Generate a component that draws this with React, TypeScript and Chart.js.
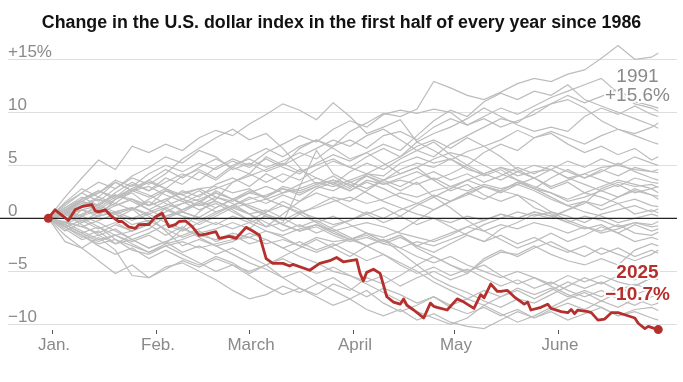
import React, { useEffect, useRef } from "react";
import { Chart, registerables } from "chart.js";

Chart.register(...registerables);

// Day of year (0 = Jan. 1) for each sample of the gray series; -1 = last close of previous year
const DAYS = [-1, 4, 9, 14, 19, 24, 29, 34, 39, 44, 49, 54, 59, 64, 69, 74, 79, 84, 89, 94, 99, 104, 109, 114, 119, 124, 129, 134, 139, 144, 149, 154, 159, 164, 169, 174, 179, 181];

const y1986 = [0, -2.2, -2.8, -1.8, -3.0, -5.4, -5.6, -4.6, -4.2, -5.0, -5.8, -6.8, -7.6, -7.2, -6.4, -7.0, -6.2, -5.6, -6.6, -7.4, -6.6, -7.2, -8.0, -7.4, -8.4, -9.0, -8.4, -9.2, -8.6, -9.4, -8.8, -9.6, -9.0, -8.4, -9.2, -8.8, -9.4, -9.6];
const y1987 = [0, -1.6, -2.8, -4.0, -5.2, -4.4, -5.6, -4.8, -4.0, -4.6, -3.8, -4.4, -5.0, -4.4, -5.6, -5.0, -6.0, -6.8, -7.6, -6.8, -8.0, -8.8, -8.2, -7.4, -8.2, -7.6, -6.8, -7.4, -6.6, -7.2, -6.6, -7.4, -6.8, -7.4, -6.6, -7.2, -6.6, -6.8];
const y1988 = [0, -1.2, -0.4, 0.6, 1.4, 0.8, 1.6, 0.8, 0.2, -0.6, 0.2, 1.0, 0.4, -0.4, -1.2, -0.6, -1.4, -0.8, -0.2, 0.6, 0.0, 0.8, 1.4, 0.8, 1.6, 2.4, 1.8, 2.6, 3.4, 2.8, 3.8, 4.6, 3.8, 4.4, 5.2, 4.4, 3.8, 3.6];
const y1989 = [0, 0.8, 0.2, 1.4, 2.2, 1.6, 0.8, 1.6, 2.6, 2.0, 3.2, 3.8, 3.0, 4.2, 3.4, 4.6, 3.8, 3.2, 4.4, 5.2, 4.6, 5.6, 6.4, 5.8, 7.0, 7.8, 8.6, 9.4, 9.0, 10.2, 10.8, 11.2, 10.4, 9.2, 8.4, 7.8, 7.2, 7.0];
const y1990 = [0, 0.4, -0.6, -1.6, -1.0, -2.0, -1.4, -0.6, -1.2, -0.4, 0.4, 1.2, 2.0, 1.4, 2.2, 1.6, 2.4, 1.8, 1.0, 0.4, 1.0, 0.2, -0.6, 0.0, -0.8, -1.6, -2.2, -1.6, -2.4, -1.8, -2.6, -3.2, -2.6, -3.4, -2.8, -3.6, -3.0, -3.3];
const y1991 = [0, -0.6, -1.4, -0.8, -2.0, -2.6, -3.2, -2.4, -1.0, 0.6, 1.8, 3.4, 4.2, 5.8, 5.0, 6.6, 7.4, 6.8, 8.2, 9.0, 9.9, 9.6, 10.3, 12.9, 12.3, 11.6, 11.2, 11.9, 12.7, 13.2, 12.9, 13.6, 14.0, 15.1, 16.3, 15.0, 15.2, 15.6];
const y1992 = [0, 0.6, 1.6, 2.4, 3.4, 2.6, 3.6, 4.6, 3.8, 4.8, 5.6, 4.8, 5.8, 6.6, 5.8, 6.8, 7.4, 6.6, 5.6, 6.2, 5.2, 4.2, 4.8, 3.6, 2.6, 3.2, 2.2, 1.6, 2.2, 1.0, 0.4, -0.4, -1.0, -0.6, -1.4, -2.2, -1.8, -2.0];
const y1993 = [0, 0.8, 1.8, 2.6, 1.8, 2.8, 3.6, 2.8, 1.8, 2.6, 1.6, 0.8, -0.2, 0.6, 1.6, 0.8, -0.4, -1.2, -2.0, -1.4, -2.2, -1.6, -2.6, -3.2, -2.4, -1.6, -2.2, -1.0, -0.4, 0.4, 0.0, 0.8, 1.6, 1.2, 2.0, 2.8, 2.2, 2.1];
const y1994 = [0, -0.4, 0.4, 1.0, 0.4, -0.6, -0.2, -1.0, -1.8, -1.2, -2.2, -1.6, -2.4, -2.0, -2.8, -2.2, -3.0, -2.4, -3.2, -4.0, -3.4, -4.4, -5.2, -4.6, -5.4, -4.8, -5.6, -6.4, -5.8, -6.6, -6.0, -6.8, -7.4, -6.8, -7.6, -8.2, -7.4, -7.2];
const y1995 = [0, -0.6, -1.4, -2.2, -1.6, -2.4, -3.2, -2.6, -3.4, -4.2, -5.0, -4.4, -5.4, -6.4, -7.2, -6.6, -7.4, -8.2, -7.6, -8.6, -9.2, -8.6, -9.6, -9.0, -9.8, -10.2, -10.4, -9.6, -8.8, -9.4, -8.6, -8.0, -8.6, -7.8, -8.4, -7.6, -8.2, -8.0];
const y1996 = [0, 0.6, 1.6, 1.0, 2.0, 2.8, 2.2, 1.4, 0.8, 1.6, 1.0, 1.8, 2.6, 2.0, 2.8, 2.2, 3.0, 2.6, 3.4, 2.8, 3.6, 3.0, 3.8, 4.4, 3.6, 4.2, 3.4, 4.0, 4.8, 4.2, 5.0, 4.4, 3.8, 4.6, 4.0, 4.8, 4.4, 4.6];
const y1997 = [0, 1.4, 2.4, 3.4, 2.8, 4.0, 4.8, 5.8, 5.2, 6.4, 5.8, 4.6, 5.2, 4.4, 5.0, 5.8, 6.6, 7.4, 6.8, 7.8, 8.4, 7.4, 6.4, 7.2, 6.0, 5.0, 4.2, 3.6, 4.4, 3.8, 4.6, 5.4, 4.8, 5.6, 5.0, 5.8, 5.2, 5.0];
const y1998 = [0, 0.8, 1.6, 0.8, 0.0, 0.8, 1.8, 2.6, 1.8, 1.2, 2.0, 1.6, 2.4, 3.0, 2.4, 3.2, 3.8, 3.2, 2.6, 3.4, 2.8, 2.0, 1.4, 2.2, 1.6, 2.4, 3.0, 2.4, 3.2, 3.8, 3.0, 3.6, 4.2, 3.6, 3.0, 3.8, 3.4, 3.3];
const y1999 = [0, 0.4, 1.2, 2.0, 1.4, 2.6, 3.4, 2.8, 4.0, 4.6, 3.8, 5.0, 5.6, 4.8, 5.4, 6.2, 5.6, 6.8, 7.4, 6.6, 7.8, 8.2, 7.4, 8.6, 9.4, 8.8, 9.6, 10.4, 9.8, 10.6, 11.4, 12.0, 12.6, 13.2, 11.8, 10.8, 10.4, 10.1];
const y2000 = [0, 1.0, 2.0, 1.2, 2.4, 3.4, 2.6, 3.8, 3.2, 4.4, 3.6, 4.8, 4.2, 3.4, 4.2, 3.6, 4.6, 5.4, 4.8, 5.8, 6.6, 5.8, 6.8, 7.4, 6.6, 7.6, 6.8, 5.8, 4.6, 3.8, 2.8, 3.4, 2.4, 2.0, 1.4, 1.8, 1.2, 1.1];
const y2001 = [0, 1.0, 1.8, 2.6, 2.0, 3.2, 2.6, 3.4, 4.2, 3.6, 4.8, 5.6, 5.0, 6.2, 7.0, 7.8, 7.2, 8.4, 9.2, 8.6, 9.8, 10.2, 9.9, 10.3, 10.0, 8.8, 9.4, 8.6, 9.2, 9.8, 10.8, 11.6, 10.9, 11.5, 12.2, 11.0, 10.6, 10.4];
const y2002 = [0, 0.6, 1.4, 0.8, 1.8, 2.6, 2.0, 2.8, 2.2, 1.6, 2.4, 1.8, 1.2, 0.6, 1.2, 0.4, -0.4, 0.2, -0.6, -1.4, -2.2, -1.6, -2.8, -3.6, -4.4, -5.0, -4.4, -5.4, -6.2, -5.6, -6.4, -7.2, -7.8, -8.4, -9.2, -8.6, -8.4, -8.7];
const y2003 = [0, -0.8, -1.6, -2.6, -3.4, -2.8, -3.8, -3.0, -3.8, -4.4, -3.6, -4.2, -5.2, -4.4, -3.6, -2.8, -2.0, -2.8, -3.6, -2.6, -3.4, -4.2, -5.0, -6.0, -6.8, -7.6, -8.2, -9.0, -9.8, -9.2, -8.4, -7.6, -7.0, -7.8, -7.0, -6.4, -5.6, -5.8];
const y2004 = [0, -0.6, 0.8, 0.2, 1.8, 2.4, 1.2, 1.8, 0.6, 1.4, 2.6, 1.8, 1.0, 0.2, -0.6, 0.4, 1.2, 2.0, 1.6, 2.6, 3.6, 4.6, 5.2, 4.8, 5.6, 4.8, 4.0, 4.6, 3.6, 2.8, 2.0, 1.2, 1.6, 0.8, 1.4, 0.4, 0.8, 0.5];
const y2005 = [0, 1.5, 2.8, 2.0, 3.4, 2.6, 3.0, 2.2, 1.6, 0.8, 1.4, 0.6, -0.2, -0.8, 0.4, 1.6, 2.8, 3.4, 2.6, 3.6, 3.2, 3.8, 4.4, 3.6, 4.2, 5.0, 6.2, 7.0, 6.4, 7.6, 8.2, 7.6, 7.0, 7.8, 8.4, 8.0, 8.6, 9.0];
const y2006 = [0, -0.8, -1.8, -1.2, -2.4, -1.6, -1.0, 0.2, 0.8, 1.4, 0.6, 1.2, 0.4, 0.8, 0.0, -0.8, -0.2, -1.0, -1.8, -2.6, -2.0, -3.2, -4.4, -5.6, -6.4, -7.0, -7.8, -8.4, -7.6, -8.0, -7.2, -6.4, -5.6, -6.2, -5.4, -5.8, -4.8, -4.9];
const y2007 = [0, 0.6, 1.2, 1.8, 1.2, 1.8, 0.8, 0.0, 0.6, 0.0, -0.6, 0.2, -0.4, 0.2, -0.6, -1.2, -0.6, -1.4, -2.0, -1.6, -2.4, -1.8, -2.6, -2.0, -1.4, -0.8, -1.2, -0.6, -1.0, -0.4, -0.8, -1.4, -0.8, -1.2, -0.6, -1.4, -1.6, -1.3];
const y2008 = [0, -0.8, -0.2, -1.0, -0.4, -1.2, -0.6, -1.6, -0.8, -1.8, -2.6, -3.4, -4.2, -4.8, -5.6, -6.6, -7.2, -6.2, -6.8, -5.6, -6.2, -5.4, -4.4, -3.6, -4.4, -5.2, -3.8, -3.0, -3.6, -2.8, -2.2, -3.0, -3.6, -2.8, -3.4, -4.0, -3.4, -3.0];
const y2009 = [0, 1.2, 2.4, 1.6, 2.8, 3.8, 3.2, 4.2, 5.6, 6.6, 7.6, 8.4, 7.4, 8.0, 6.6, 4.8, 3.2, 4.0, 3.0, 4.0, 3.4, 2.6, 3.4, 2.0, 1.0, -0.2, -1.2, -2.0, -2.8, -2.2, -1.4, -2.2, -1.6, -0.8, -1.4, -0.6, -1.2, -1.0];
const y2010 = [0, 0.6, 1.8, 2.4, 3.6, 3.0, 4.2, 5.0, 4.4, 5.2, 4.6, 5.4, 4.8, 5.6, 4.8, 4.2, 5.2, 6.0, 5.4, 6.2, 7.0, 6.4, 7.8, 9.2, 10.2, 9.6, 11.0, 11.8, 11.2, 12.0, 11.6, 12.6, 11.2, 10.6, 10.0, 9.4, 8.8, 8.5];
const y2011 = [0, -0.6, 0.2, -0.4, -1.2, -2.0, -2.8, -2.2, -3.2, -2.6, -3.4, -2.8, -3.6, -4.4, -3.8, -4.6, -5.2, -4.6, -5.4, -6.2, -7.0, -7.8, -8.8, -9.4, -10.0, -9.4, -8.2, -7.4, -6.8, -7.6, -6.8, -6.0, -6.6, -6.0, -6.8, -6.2, -6.8, -6.4];
const y2012 = [0, 0.6, 0.0, -0.8, -1.6, -2.2, -1.6, -2.4, -2.0, -1.4, -1.0, -0.4, -1.0, 0.4, -0.2, 0.6, 0.0, -0.6, -0.2, 0.4, -0.4, 0.2, 1.2, 2.0, 2.8, 3.6, 4.2, 4.8, 4.4, 5.0, 4.6, 3.8, 3.2, 2.6, 3.2, 2.4, 2.8, 2.4];
const y2013 = [0, -0.4, -0.8, -1.4, -0.6, -1.2, -0.4, 0.6, 1.4, 2.2, 2.8, 3.4, 4.0, 4.6, 5.2, 4.4, 5.0, 5.6, 4.8, 4.2, 3.6, 4.2, 4.8, 5.6, 6.2, 5.8, 5.0, 4.2, 3.6, 3.0, 2.4, 1.8, 2.4, 3.0, 3.6, 3.2, 2.8, 3.0];
const y2014 = [0, 0.6, 0.2, 0.8, 0.4, -0.2, 0.4, -0.4, -1.0, -1.6, -2.0, -1.4, -1.8, -1.2, -1.6, -1.0, -0.6, -1.2, -0.8, -0.4, -0.8, -1.4, -1.8, -2.2, -1.6, -0.8, -0.2, 0.4, 0.0, 0.6, 0.2, -0.4, 0.2, -0.2, -0.8, -0.4, -0.6, -0.3];
const y2015 = [0, 2.0, 3.8, 5.5, 4.6, 6.8, 6.2, 7.0, 6.4, 7.6, 8.3, 7.8, 8.9, 9.8, 10.8, 10.2, 9.3, 10.9, 9.6, 8.0, 8.6, 9.3, 7.2, 6.4, 5.5, 6.3, 6.8, 7.4, 8.3, 7.6, 8.0, 7.0, 6.2, 6.8, 6.0, 6.6, 5.5, 5.8];
const y2016 = [0, 0.4, -0.2, 0.2, 0.6, 1.0, 0.2, -1.2, -2.6, -2.0, -2.6, -2.2, -1.4, -2.0, -2.8, -3.6, -4.2, -5.0, -5.4, -6.0, -5.4, -6.4, -5.6, -5.0, -5.8, -5.2, -4.0, -3.2, -3.4, -2.6, -3.4, -4.0, -4.4, -3.8, -4.4, -3.0, -2.4, -2.6];
const y2017 = [0, -1.0, -2.0, -1.6, -2.4, -2.0, -2.8, -2.2, -1.6, -1.0, -0.4, -1.0, -0.4, -1.2, -1.8, -2.6, -3.2, -2.6, -2.0, -2.6, -2.0, -2.8, -3.6, -4.2, -3.6, -4.4, -5.0, -5.6, -5.0, -5.6, -6.2, -5.4, -6.0, -5.4, -6.0, -6.4, -5.6, -5.2];
const y2018 = [0, -0.8, -1.6, -2.4, -2.0, -3.0, -3.4, -2.6, -2.2, -2.8, -2.4, -2.0, -1.8, -2.4, -2.0, -2.6, -1.8, -2.2, -2.0, -1.4, -1.8, -1.2, -0.2, 0.8, 1.6, 2.2, 3.0, 2.6, 3.4, 2.8, 2.4, 1.6, 2.0, 2.6, 2.0, 2.6, 2.2, 1.8];
const y2019 = [0, 0.4, -0.4, 0.2, 0.6, 0.0, 0.6, 1.2, 1.8, 1.2, 1.6, 1.0, 1.4, 1.8, 1.2, 0.6, 1.0, 1.6, 2.0, 1.4, 1.8, 2.4, 2.0, 2.6, 3.0, 2.6, 3.2, 2.8, 3.2, 2.6, 1.8, 1.2, 0.6, 0.2, -0.4, 0.0, 0.4, 0.2];
const y2020 = [0, 0.2, 0.8, 0.4, 1.2, 1.8, 1.2, 1.8, 2.4, 2.8, 2.0, 1.4, 0.4, -0.8, -0.4, 3.0, 6.4, 4.2, 3.4, 4.0, 3.2, 3.6, 3.2, 3.8, 3.0, 3.6, 3.0, 2.6, 2.2, 1.6, 0.6, 0.2, -0.4, 0.4, 0.8, 1.2, 0.6, 0.9];
const y2021 = [0, 0.4, 0.8, 1.2, 0.6, 1.0, 0.4, 1.0, 0.2, -0.2, 0.6, 1.2, 1.8, 2.2, 2.8, 2.4, 3.0, 3.6, 3.2, 2.4, 1.6, 1.0, 0.4, 0.0, -0.4, 0.2, -0.2, 0.4, 0.0, 0.6, 0.2, 0.8, 1.4, 2.8, 3.4, 3.0, 3.2, 2.9];
const y2022 = [0, -0.3, -0.8, -0.2, 0.4, 0.9, -0.4, 0.2, 0.6, 0.1, 1.0, 1.8, 2.4, 2.0, 3.0, 2.6, 3.2, 3.6, 2.8, 4.2, 5.0, 5.8, 7.2, 8.0, 8.6, 9.4, 10.4, 9.6, 8.8, 8.2, 8.6, 8.2, 9.6, 10.4, 9.8, 10.6, 9.8, 9.6];
const y2023 = [0, -0.4, -1.2, -2.0, -1.6, -1.2, -0.4, 1.0, 1.4, 1.8, 2.4, 1.8, 1.0, 0.4, -0.6, -1.2, -0.8, -1.6, -2.2, -1.8, -2.4, -2.8, -2.2, -2.6, -2.0, -1.4, -0.6, 0.0, 0.6, 0.2, 0.6, -0.2, -0.8, -1.4, -1.0, -0.4, -0.8, -0.7];
const y2024 = [0, 0.8, 1.6, 1.2, 2.2, 1.8, 1.2, 2.6, 2.2, 2.8, 3.0, 2.4, 2.8, 1.8, 2.4, 2.8, 3.4, 3.0, 3.6, 4.2, 4.0, 5.2, 5.8, 5.2, 5.6, 4.6, 4.2, 4.8, 4.0, 4.4, 4.6, 3.8, 4.2, 4.8, 5.0, 4.6, 4.4, 4.3];

const GRAY_YEARS = [1986, 1987, 1988, 1989, 1990, 1991, 1992, 1993, 1994, 1995, 1996, 1997, 1998, 1999, 2000, 2001, 2002, 2003, 2004, 2005, 2006, 2007, 2008, 2009, 2010, 2011, 2012, 2013, 2014, 2015, 2016, 2017, 2018, 2019, 2020, 2021, 2022, 2023, 2024];
const GRAY_SERIES = [y1986, y1987, y1988, y1989, y1990, y1991, y1992, y1993, y1994, y1995, y1996, y1997, y1998, y1999, y2000, y2001, y2002, y2003, y2004, y2005, y2006, y2007, y2008, y2009, y2010, y2011, y2012, y2013, y2014, y2015, y2016, y2017, y2018, y2019, y2020, y2021, y2022, y2023, y2024];

const RED_DAYS = [-1, 1, 5, 7, 9, 12, 13, 14, 16, 18, 20, 21, 23, 25, 26, 28, 29, 31, 33, 35, 37, 38, 40, 42, 44, 46, 49, 50, 53, 55, 58, 60, 62, 64, 66, 69, 71, 72, 77, 80, 83, 85, 87, 91, 92, 93, 94, 96, 98, 100, 102, 104, 105, 106, 108, 111, 113, 114, 115, 118, 121, 123, 126, 128, 129, 131, 133, 134, 136, 138, 141, 142, 143, 146, 148, 149, 152, 154, 155, 156, 157, 160, 161, 163, 165, 167, 169, 171, 174, 175, 177, 178, 180, 181];
const RED_VALUES = [0, 0.8, -0.2, 0.8, 1.1, 1.3, 0.7, 0.6, 0.8, 0.15, -0.3, -0.3, -0.8, -0.95, -0.6, -0.57, -0.6, 0.15, 0.47, -0.8, -0.57, -0.3, -0.25, -0.8, -1.6, -1.5, -1.26, -1.9, -1.7, -1.9, -0.85, -1.2, -1.6, -3.8, -4.25, -4.25, -4.5, -4.35, -4.9, -4.25, -4.0, -3.7, -4.1, -3.9, -5.2, -5.9, -5.1, -4.8, -5.2, -7.4, -7.9, -8.1, -7.6, -8.2, -8.65, -9.4, -8.0, -8.3, -8.4, -8.65, -7.6, -7.9, -8.5, -7.2, -7.5, -6.2, -6.9, -6.9, -6.8, -7.4, -8.1, -7.9, -8.65, -8.4, -8.1, -8.5, -8.8, -8.9, -8.6, -9.0, -8.65, -8.8, -8.9, -9.6, -9.5, -8.9, -8.9, -9.1, -9.4, -9.9, -10.4, -10.2, -10.4, -10.5];

const TITLE = "Change in the U.S. dollar index in the first half of every year since 1986";
const Y_TICKS = [15, 10, 5, 0, -5, -10];
const Y_TICK_LABELS = ["+15%", "10", "5", "0", "\u22125", "\u221210"];
const MONTH_DAYS = [0, 31, 59, 90, 120, 151];
const MONTH_LABELS = ["Jan.", "Feb.", "March", "April", "May", "June"];
const LABEL_1991 = ["1991", "+15.6%"];
const LABEL_2025 = ["2025", "\u221210.7%"];

const RED = "#b5302c";
const GRAY = "#bcbcbc";
const TEXT_GRAY = "#8a8a8a";
const SANS = '"Liberation Sans", Arial, sans-serif';

const overlay = {
  id: "overlay",
  beforeDatasetsDraw(chart: any) {
    const { ctx, chartArea, scales } = chart;
    const x = scales.x;
    const y = scales.y;
    ctx.save();
    ctx.strokeStyle = "#dedede";
    ctx.lineWidth = 1;
    Y_TICKS.forEach((v) => {
      if (v === 0) return;
      const py = Math.round(y.getPixelForValue(v)) + 0.5;
      ctx.beginPath();
      ctx.moveTo(chartArea.left, py);
      ctx.lineTo(chartArea.right, py);
      ctx.stroke();
    });
    ctx.fillStyle = TEXT_GRAY;
    ctx.font = `17px ${SANS}`;
    ctx.textAlign = "left";
    ctx.textBaseline = "alphabetic";
    Y_TICKS.forEach((v, i) => {
      ctx.fillText(Y_TICK_LABELS[i], chartArea.left, y.getPixelForValue(v) - 2.5);
    });
    // month ticks
    ctx.strokeStyle = "#555";
    ctx.lineWidth = 1;
    ctx.textAlign = "center";
    MONTH_DAYS.forEach((d, i) => {
      const px = Math.round(x.getPixelForValue(d)) + 0.5;
      ctx.beginPath();
      ctx.moveTo(px, chartArea.bottom - 1);
      ctx.lineTo(px, chartArea.bottom + 3);
      ctx.stroke();
      ctx.fillText(MONTH_LABELS[i], px + 1.5, chartArea.bottom + 18.5);
    });
    ctx.restore();
  },
  afterDatasetDraw(chart: any, args: any) {
    if (args.index !== 1) return;
    const { ctx, chartArea, scales } = chart;
    const py = scales.y.getPixelForValue(0);
    ctx.save();
    ctx.strokeStyle = "#222";
    ctx.lineWidth = 1.2;
    ctx.beginPath();
    ctx.moveTo(0, py);
    ctx.lineTo(chartArea.right, py);
    ctx.stroke();
    ctx.restore();
  },
  afterDraw(chart: any) {
    const { ctx } = chart;
    ctx.save();
    // title
    let size = 20;
    ctx.font = `bold ${size}px "Liberation Sans Narrow", ${SANS}`;
    const w = ctx.measureText(TITLE).width;
    size = (size * 600) / w;
    ctx.font = `bold ${size}px "Liberation Sans Narrow", ${SANS}`;
    ctx.fillStyle = "#121212";
    ctx.textAlign = "center";
    ctx.textBaseline = "alphabetic";
    ctx.fillText(TITLE, 341.5, 28);

    const drawHalo = (text: string, px: number, py: number, color: string, font: string) => {
      ctx.font = font;
      ctx.lineJoin = "round";
      ctx.strokeStyle = "rgba(255,255,255,0.95)";
      ctx.lineWidth = 4;
      ctx.strokeText(text, px, py);
      ctx.fillStyle = color;
      ctx.fillText(text, px, py);
    };
    const cx = 637.5;
    drawHalo(LABEL_1991[0], cx, 81.7, TEXT_GRAY, `19px ${SANS}`);
    drawHalo(LABEL_1991[1], cx, 101, TEXT_GRAY, `19px ${SANS}`);
    drawHalo(LABEL_2025[0], cx, 278.3, RED, `bold 19px ${SANS}`);
    drawHalo(LABEL_2025[1], cx, 300, RED, `bold 19px ${SANS}`);
    ctx.restore();
  },
};

export default function App() {
  const ref = useRef<HTMLCanvasElement | null>(null);
  useEffect(() => {
    if (!ref.current) return;
    const grayDatasets = GRAY_SERIES.map((vals, k) => ({
      label: String(GRAY_YEARS[k]),
      data: DAYS.map((d, i) => ({ x: d, y: vals[i] })),
      borderColor: GRAY,
      borderWidth: 1.2,
      pointRadius: 0,
      tension: 0,
      fill: false,
    }));
    const redDataset = {
      label: "2025",
      data: RED_DAYS.map((d, i) => ({ x: d, y: RED_VALUES[i] })),
      borderColor: RED,
      backgroundColor: RED,
      borderWidth: 2.8,
      borderJoinStyle: "round" as const,
      pointRadius: (c: any) => (c.dataIndex === 0 || c.dataIndex === RED_DAYS.length - 1 ? 4.5 : 0),
      pointBackgroundColor: RED,
      pointBorderWidth: 0,
      tension: 0,
      fill: false,
      clip: false as any,
    };
    const chart = new Chart(ref.current, {
      type: "line",
      data: { datasets: [redDataset, ...grayDatasets] as any },
      options: {
        responsive: false,
        animation: false,
        events: [],
        layout: { padding: { left: 8, right: 6, top: 40, bottom: 51 } },
        scales: {
          x: { type: "linear", min: -13.02, max: 186.58, display: false },
          y: { type: "linear", min: -10.63, max: 16.82, display: false },
        },
        plugins: { legend: { display: false }, tooltip: { enabled: false }, title: { display: false } },
      },
      plugins: [overlay as any],
    });
    return () => chart.destroy();
  }, []);
  return (
    <div style={{ position: "fixed", left: 0, top: 0, width: 683, height: 382, background: "#fff" }}>
      <canvas ref={ref} width={683} height={382} style={{ display: "block" }} />
    </div>
  );
}
